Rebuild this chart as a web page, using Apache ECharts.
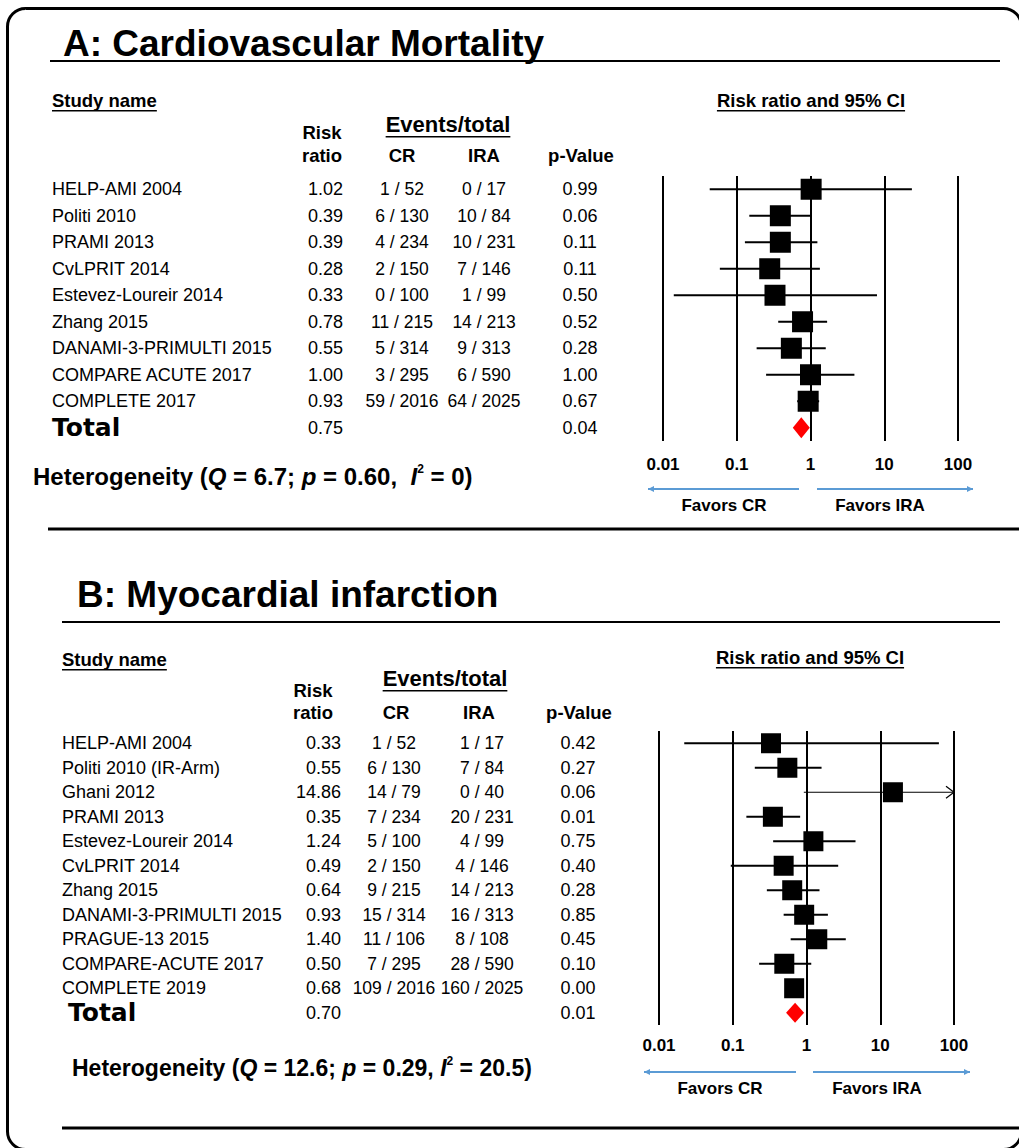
<!DOCTYPE html>
<html>
<head>
<meta charset="utf-8">
<script src="https://cdn.jsdelivr.net/npm/echarts@6/dist/echarts.min.js"></script>
<style>
html,body{margin:0;padding:0;background:#fff;}
#chart{width:1019px;height:1148px;}
</style>
</head>
<body>
<div id="chart"></div>
<script>
// ---------------- DATA ----------------
const tickValues = [0.01, 0.1, 1, 10, 100];
const tickLabels = ['0.01', '0.1', '1', '10', '100'];

// Panel A: Cardiovascular Mortality
const namesA = ['HELP-AMI 2004', 'Politi 2010', 'PRAMI 2013', 'CvLPRIT 2014', 'Estevez-Loureir 2014', 'Zhang 2015', 'DANAMI-3-PRIMULTI 2015', 'COMPARE ACUTE 2017', 'COMPLETE 2017'];
const rrA = [1.02, 0.39, 0.39, 0.28, 0.33, 0.78, 0.55, 1.00, 0.93];
const rrLabelsA = ['1.02', '0.39', '0.39', '0.28', '0.33', '0.78', '0.55', '1.00', '0.93'];
const lowA = [0.043, 0.148, 0.129, 0.059, 0.014, 0.365, 0.186, 0.25, 0.66];
const highA = [23.7, 1.0, 1.24, 1.34, 7.97, 1.68, 1.61, 3.94, 1.31];
const crA = ['1 / 52', '6 / 130', '4 / 234', '2 / 150', '0 / 100', '11 / 215', '5 / 314', '3 / 295', '59 / 2016'];
const iraA = ['0 / 17', '10 / 84', '10 / 231', '7 / 146', '1 / 99', '14 / 213', '9 / 313', '6 / 590', '64 / 2025'];
const pA = ['0.99', '0.06', '0.11', '0.11', '0.50', '0.52', '0.28', '1.00', '0.67'];
const totalRrA = 0.75;
const totalRrLabelA = '0.75';
const totalPA = '0.04';

// Panel B: Myocardial infarction
const namesB = ['HELP-AMI 2004', 'Politi 2010 (IR-Arm)', 'Ghani 2012', 'PRAMI 2013', 'Estevez-Loureir 2014', 'CvLPRIT 2014', 'Zhang 2015', 'DANAMI-3-PRIMULTI 2015', 'PRAGUE-13 2015', 'COMPARE-ACUTE 2017', 'COMPLETE 2019'];
const rrB = [0.33, 0.55, 14.86, 0.35, 1.24, 0.49, 0.64, 0.93, 1.40, 0.50, 0.68];
const rrLabelsB = ['0.33', '0.55', '14.86', '0.35', '1.24', '0.49', '0.64', '0.93', '1.40', '0.50', '0.68'];
const lowB = [0.022, 0.199, 0.92, 0.153, 0.353, 0.094, 0.29, 0.49, 0.61, 0.228, 0.58];
const highB = [62.4, 1.6, 240, 0.82, 4.62, 2.69, 1.5, 1.95, 3.41, 1.16, 0.80];
const crB = ['1 / 52', '6 / 130', '14 / 79', '7 / 234', '5 / 100', '2 / 150', '9 / 215', '15 / 314', '11 / 106', '7 / 295', '109 / 2016'];
const iraB = ['1 / 17', '7 / 84', '0 / 40', '20 / 231', '4 / 99', '4 / 146', '14 / 213', '16 / 313', '8 / 108', '28 / 590', '160 / 2025'];
const pB = ['0.42', '0.27', '0.06', '0.01', '0.75', '0.40', '0.28', '0.85', '0.45', '0.10', '0.00'];
const totalRrB = 0.70;
const totalRrLabelB = '0.70';
const totalPB = '0.01';

// ---------------- HELPERS ----------------
const FF = '"Liberation Sans", Arial, Helvetica, sans-serif';
const FH = '"DejaVu Sans", "Liberation Sans", Arial, sans-serif';
const measureCtx = document.createElement('canvas').getContext('2d');
function textWidth(s, size, weight) {
  measureCtx.font = (weight || 'normal') + ' ' + size + 'px ' + FF;
  return measureCtx.measureText(s).width;
}
function txt(x, y, s, size, weight, align, family) {
  return {
    type: 'text', x: x, y: y, silent: true,
    style: {
      text: s, fontSize: size, fontWeight: weight || 'normal', fontFamily: family || FF, fill: '#000',
      align: align || 'left', textAlign: align || 'left',
      verticalAlign: 'middle', textVerticalAlign: 'middle'
    }
  };
}
function hline(x1, x2, y, w, color) {
  return { type: 'line', silent: true, shape: { x1: x1, y1: y, x2: x2, y2: y }, style: { stroke: color || '#000', lineWidth: w } };
}
function underlinedText(x, y, s, size, align) {
  const w = textWidth(s, size, 'bold');
  const left = align === 'center' ? x - w / 2 : x;
  return [txt(x, y, s, size, 'bold', align), hline(left, left + w, y + size * 0.58, 1.6)];
}
function favorArrow(x1, x2, y, dir) {
  const c = '#5B9BD5';
  const els = [hline(x1, x2, y, 2, c)];
  const tip = dir < 0 ? x1 : x2;
  const back = tip - dir * 6;
  els.push({ type: 'polygon', silent: true, shape: { points: [[tip, y], [back, y - 3], [back, y + 3]] }, style: { fill: c } });
  return els;
}
function hetero(x, y, q, p, i2, sep, size) {
  const base = { fontSize: size, fontWeight: 'bold', fontFamily: FF, fill: '#000', color: '#000', lineHeight: 26 };
  return {
    type: 'text', x: x, y: y, silent: true,
    style: {
      text: '{b|Heterogeneity (}{bi|Q}{b| = ' + q + '; }{bi|p}{b| = ' + p + ',' + sep + '}{bi|I}{sup|2}{b| = ' + i2 + ')}',
      verticalAlign: 'middle', textVerticalAlign: 'middle',
      rich: {
        b: base,
        bi: Object.assign({}, base, { fontStyle: 'italic' }),
        sup: { fontSize: 12, fontWeight: 'bold', fontFamily: FF, fill: '#000', color: '#000', verticalAlign: 'top', lineHeight: 26 }
      }
    }
  };
}

// table renderer (text columns tied to the row axis)
function makeTableRender(names, rrLabels, cr, ira, pv, totalRr, totalP, cols) {
  return function (params, api) {
    const i = api.value(1);
    const y = api.coord([1, i])[1];
    const children = [];
    function t(x, s, size, weight, align, family) {
      children.push({
        type: 'text', x: x, y: y,
        style: { text: s, fontSize: size, fontWeight: weight, fontFamily: family || FF, fill: '#000',
          align: align, textAlign: align, verticalAlign: 'middle', textVerticalAlign: 'middle' }
      });
    }
    if (i < names.length) {
      t(cols.name, names[i], 18, 'normal', 'left');
      t(cols.rr, rrLabels[i], 18, 'normal', 'right');
      t(cols.cr, cr[i], 17.5, 'normal', 'center');
      t(cols.ira, ira[i], 17.5, 'normal', 'center');
      t(cols.p, pv[i], 18, 'normal', 'center');
    } else {
      t(cols.total, 'Total', 25, 'bold', 'left', FH);
      t(cols.rr, totalRr, 18, 'normal', 'right');
      t(cols.p, totalP, 18, 'normal', 'center');
    }
    return { type: 'group', children: children };
  };
}

function ciRender(params, api) {
  const lo = api.value(0), hi = api.value(1), row = api.value(2);
  const clippedHi = Math.min(hi, 100);
  const p1 = api.coord([lo, row]);
  const p2 = api.coord([clippedHi, row]);
  const children = [{
    type: 'line', shape: { x1: p1[0], y1: p1[1], x2: p2[0], y2: p2[1] },
    style: { stroke: '#000', lineWidth: hi > 100 ? 1.2 : 2 }
  }];
  if (hi > 100) {
    children.push({
      type: 'polyline', shape: { points: [[p2[0] - 8, p2[1] - 6], [p2[0], p2[1]], [p2[0] - 8, p2[1] + 6]] },
      style: { stroke: '#000', lineWidth: 1.2, fill: null }
    });
  }
  return { type: 'group', children: children };
}

function xAxisCfg(gridIndex, margin) {
  return {
    type: 'log', logBase: 10, gridIndex: gridIndex, min: 0.01, max: 100, interval: 1,
    axisLine: { show: false }, axisTick: { show: false },
    splitLine: { show: true, lineStyle: { color: '#000', width: 2 } },
    axisLabel: {
      margin: margin, fontSize: 17, fontWeight: 'bold', fontFamily: FF, color: '#000',
      formatter: function (v) {
        const idx = tickValues.findIndex(function (t) { return Math.abs(Math.log10(t) - Math.log10(v)) < 1e-6; });
        return idx >= 0 ? tickLabels[idx] : '';
      }
    }
  };
}
function yAxisCfg(gridIndex, n) {
  return { type: 'value', gridIndex: gridIndex, min: -0.5, max: n - 0.5, inverse: true, show: false, splitLine: { show: false } };
}

const nA = namesA.length + 1, nB = namesB.length + 1;
const rowsA = namesA.map(function (_, i) { return i; });
const rowsB = namesB.map(function (_, i) { return i; });

// ---------------- GRAPHIC (static text / frame) ----------------
let graphics = [];
graphics.push({ type: 'rect', silent: true, shape: { x: 7.5, y: 8.5, width: 1014, height: 1141, r: 18 }, style: { fill: 'none', stroke: '#000', lineWidth: 3 } });
// Panel A
graphics.push(txt(63, 43, 'A: Cardiovascular Mortality', 37, 'bold', 'left'));
graphics.push(hline(50, 1000, 61, 2));
graphics = graphics.concat(underlinedText(52, 100, 'Study name', 18.5, 'left'));
graphics = graphics.concat(underlinedText(811, 100, 'Risk ratio and 95% CI', 18.5, 'center'));
graphics.push(txt(322, 132, 'Risk', 18.5, 'bold', 'center'));
graphics.push(txt(322, 155, 'ratio', 18.5, 'bold', 'center'));
graphics = graphics.concat(underlinedText(448, 124, 'Events/total', 22, 'center'));
graphics.push(txt(402, 155, 'CR', 18.5, 'bold', 'center'));
graphics.push(txt(484, 155, 'IRA', 18.5, 'bold', 'center'));
graphics.push(txt(581, 155, 'p-Value', 18.5, 'bold', 'center'));
graphics.push(hetero(33, 476, '6.7', '0.60', '0', '  ', 24));
graphics = graphics.concat(favorArrow(648, 799, 489, -1));
graphics = graphics.concat(favorArrow(817, 973, 489, 1));
graphics.push(txt(724, 505, 'Favors CR', 17, 'bold', 'center'));
graphics.push(txt(880, 505, 'Favors IRA', 17, 'bold', 'center'));
graphics.push(hline(48, 1019, 529, 3));
// Panel B
graphics.push(txt(77, 594, 'B: Myocardial infarction', 37, 'bold', 'left'));
graphics.push(hline(62, 1000, 622, 2));
graphics = graphics.concat(underlinedText(62, 659, 'Study name', 18.5, 'left'));
graphics = graphics.concat(underlinedText(810, 657, 'Risk ratio and 95% CI', 18.5, 'center'));
graphics.push(txt(313, 690, 'Risk', 18.5, 'bold', 'center'));
graphics.push(txt(313, 712, 'ratio', 18.5, 'bold', 'center'));
graphics = graphics.concat(underlinedText(445, 678, 'Events/total', 22, 'center'));
graphics.push(txt(396, 712, 'CR', 18.5, 'bold', 'center'));
graphics.push(txt(479, 712, 'IRA', 18.5, 'bold', 'center'));
graphics.push(txt(579, 712, 'p-Value', 18.5, 'bold', 'center'));
graphics.push(hetero(72, 1068, '12.6', '0.29', '20.5', ' ', 23));
graphics = graphics.concat(favorArrow(644, 796, 1072, -1));
graphics = graphics.concat(favorArrow(813, 970, 1072, 1));
graphics.push(txt(720, 1088, 'Favors CR', 17, 'bold', 'center'));
graphics.push(txt(877, 1088, 'Favors IRA', 17, 'bold', 'center'));
graphics.push(hline(62, 1019, 1128, 3));

// ---------------- OPTION ----------------
const chart = echarts.init(document.getElementById('chart'), null, { renderer: 'svg' });
const option = {
  animation: false,
  backgroundColor: '#fff',
  grid: [
    { left: 663, top: 176, width: 295, height: 265 },
    { left: 659, top: 731, width: 295, height: 294 }
  ],
  xAxis: [xAxisCfg(0, 15), xAxisCfg(1, 12)],
  yAxis: [yAxisCfg(0, nA), yAxisCfg(1, nB)],
  graphic: graphics,
  series: [
    // Panel A
    { type: 'custom', xAxisIndex: 0, yAxisIndex: 0, renderItem: ciRender, silent: true, z: 2,
      encode: { x: [0, 1], y: 2 },
      data: rowsA.map(function (i) { return [lowA[i], highA[i], i]; }) },
    { type: 'scatter', xAxisIndex: 0, yAxisIndex: 0, symbol: 'rect', symbolSize: 21, silent: true, z: 5,
      itemStyle: { color: '#000', opacity: 1 },
      data: rowsA.map(function (i) { return [rrA[i], i]; }) },
    { type: 'scatter', xAxisIndex: 0, yAxisIndex: 0, symbol: 'diamond', symbolSize: [17, 21], silent: true, z: 5,
      itemStyle: { color: '#FF0000', opacity: 1 }, data: [[totalRrA, namesA.length]] },
    { type: 'custom', xAxisIndex: 0, yAxisIndex: 0, silent: true,
      renderItem: makeTableRender(namesA, rrLabelsA, crA, iraA, pA, totalRrLabelA, totalPA,
        { name: 52, total: 52, rr: 343, cr: 402, ira: 484, p: 580 }),
      encode: { x: 0, y: 1 },
      data: rowsA.concat([namesA.length]).map(function (i) { return [1, i]; }) },
    // Panel B
    { type: 'custom', xAxisIndex: 1, yAxisIndex: 1, renderItem: ciRender, silent: true, z: 2,
      encode: { x: [0, 1], y: 2 },
      data: rowsB.map(function (i) { return [lowB[i], highB[i], i]; }) },
    { type: 'scatter', xAxisIndex: 1, yAxisIndex: 1, symbol: 'rect', symbolSize: 20, silent: true, z: 5,
      itemStyle: { color: '#000', opacity: 1 },
      data: rowsB.map(function (i) { return [rrB[i], i]; }) },
    { type: 'scatter', xAxisIndex: 1, yAxisIndex: 1, symbol: 'diamond', symbolSize: [18, 20], silent: true, z: 5,
      itemStyle: { color: '#FF0000', opacity: 1 }, data: [[totalRrB, namesB.length]] },
    { type: 'custom', xAxisIndex: 1, yAxisIndex: 1, silent: true,
      renderItem: makeTableRender(namesB, rrLabelsB, crB, iraB, pB, totalRrLabelB, totalPB,
        { name: 62, total: 68, rr: 341, cr: 394, ira: 482, p: 578 }),
      encode: { x: 0, y: 1 },
      data: rowsB.concat([namesB.length]).map(function (i) { return [1, i]; }) }
  ]
};
chart.setOption(option);
</script>
</body>
</html>
